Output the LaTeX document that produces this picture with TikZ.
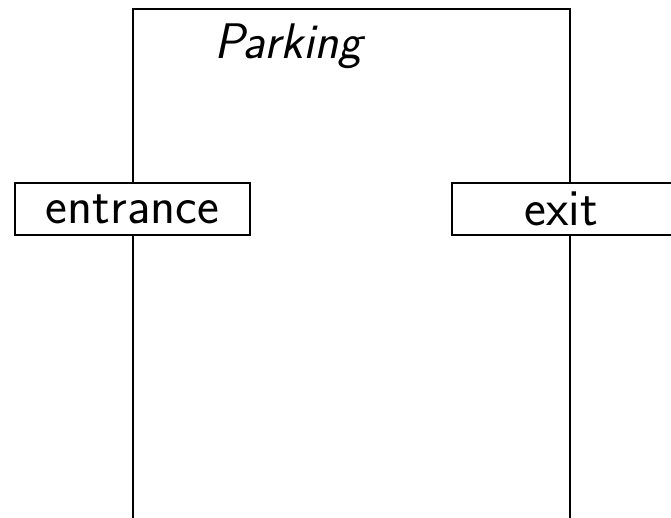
\documentclass[tikz,border=0pt]{standalone}
\usepackage{fontspec}
\setsansfont{Latin Modern Sans}
\begin{document}
\begin{tikzpicture}[x=1pt,y=-1pt,line width=2pt,
  gate/.style={draw,fill=white,inner sep=0pt,minimum height=52pt,font=\sffamily\fontsize{52}{52}\selectfont}]
\useasboundingbox (0,0) rectangle (671,518);
\coordinate (bl) at (133,520);
\coordinate (tl) at (133,9);
\coordinate (tr) at (570,9);
\coordinate (br) at (570,520);
\draw (bl) -- (tl) -- (tr) -- (br);
\node[font=\sffamily\itshape\fontsize{50}{50}\selectfont,anchor=base] (title) at (288,59) {Parking};
\node[gate,minimum width=235pt] (entrance) at (132.5,209) {entrance};
\node[gate,minimum width=226pt] (exit) at (565,209) {\hspace*{-8pt}exit};
\end{tikzpicture}
\end{document}
